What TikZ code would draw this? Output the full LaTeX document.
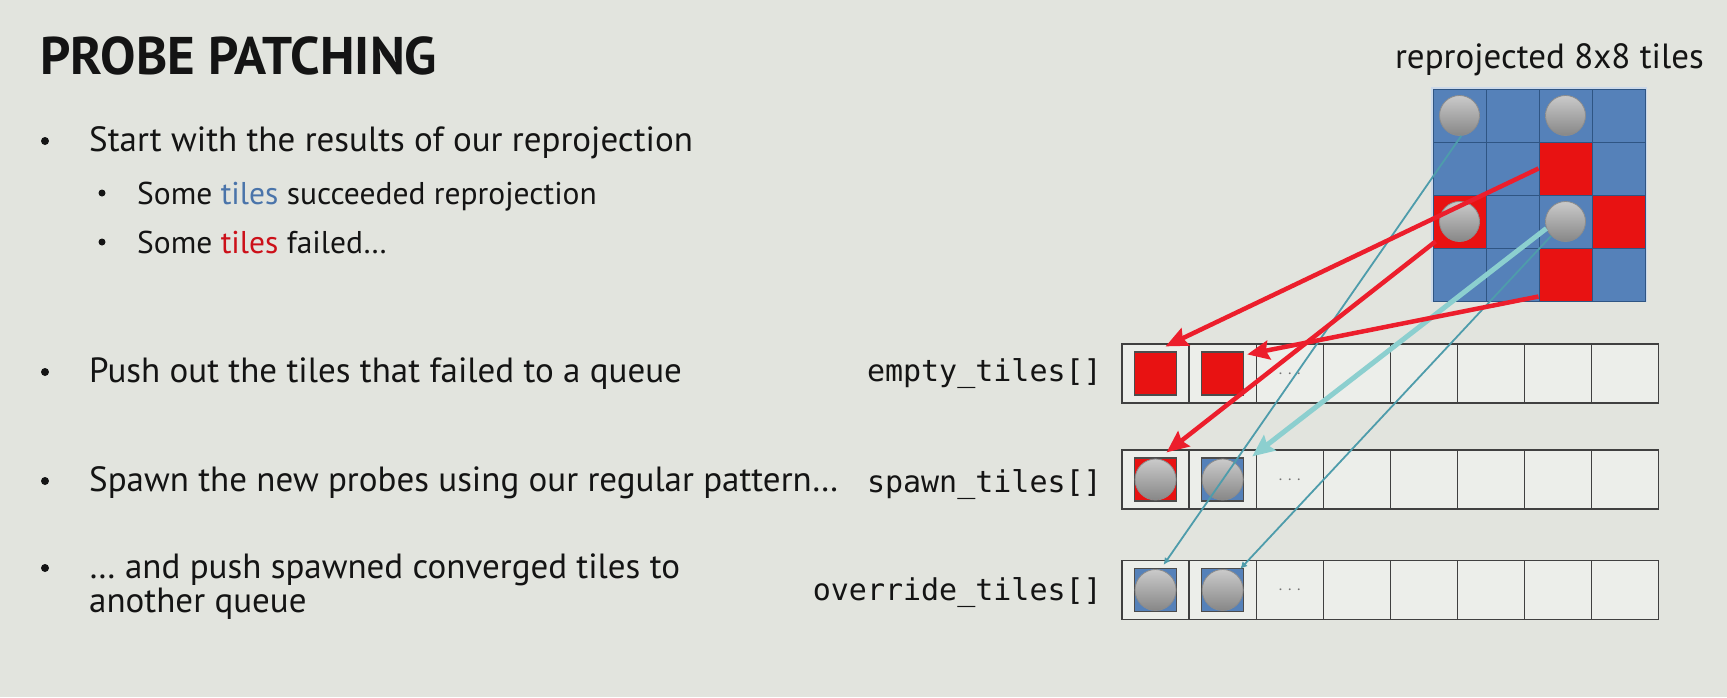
\documentclass[tikz,border=0pt]{standalone}
\usepackage{fontspec}
\setmainfont{PT Sans}
\newfontfamily\codefont{DejaVu Sans Mono}
\usetikzlibrary{arrows.meta,calc}

\definecolor{slidebg}{HTML}{E2E4DE}
\definecolor{cellbg}{HTML}{ECEEEA}
\definecolor{tileblue}{HTML}{5581B9}
\definecolor{tilered}{HTML}{E81212}
\definecolor{gridline}{HTML}{2F5583}
\definecolor{arrowred}{HTML}{EC1E2C}
\definecolor{cyanarrow}{HTML}{8CCFCF}
\definecolor{tealline}{HTML}{4E9CAB}
\definecolor{wordblue}{HTML}{4A74AA}
\definecolor{wordred}{HTML}{CC1019}
\definecolor{probetop}{HTML}{CACACA}
\definecolor{probebot}{HTML}{878787}
\definecolor{textdark}{HTML}{141414}

\tikzset{
  titletext/.style={font=\bfseries\fontsize{53}{60}\selectfont, text=textdark, anchor=base west, inner sep=0pt},
  bodytext/.style={font=\fontsize{35}{40}\selectfont, text=textdark, anchor=base west, inner sep=0pt},
  subtext/.style={font=\fontsize{31.5}{37}\selectfont, text=textdark, anchor=base west, inner sep=0pt},
  codetext/.style={font=\codefont\fontsize{30}{36}\selectfont, text=textdark, anchor=base east, inner sep=0pt},
  tile/.style={rectangle, minimum size=53pt, inner sep=0pt, draw=gridline, line width=1pt},
  qcell/.style={rectangle, minimum width=67.1pt, minimum height=59pt, inner sep=0pt, draw=black!75, fill=cellbg, line width=1.3pt},
  qtile/.style={rectangle, minimum width=42pt, minimum height=43pt, inner sep=0pt, draw=black!70, line width=1.2pt},
  probe/.style={circle, minimum size=40pt, inner sep=0pt, draw=black!45, line width=0.8pt, top color=probetop, bottom color=probebot},
  qprobe/.style={probe, minimum size=41pt},
  failarrow/.style={draw=arrowred, line width=4.5pt, -{Stealth[length=22pt, width=19pt, inset=3pt]}},
  cyanarrowstyle/.style={draw=cyanarrow, line width=5pt, -{Stealth[length=22pt, width=19pt, inset=3pt]}},
  thinarrow/.style={draw=tealline, line width=1.8pt, -{Latex[length=7pt, width=7pt]}},
  dotsmark/.style={font=\fontsize{16}{16}\selectfont, text=black!55, inner sep=0pt}
}

\begin{document}
\begin{tikzpicture}[x=1pt, y=-1pt]
  % slide background
  \fill[slidebg] (0,0) rectangle (1727,697);
  \useasboundingbox (0,0) rectangle (1727,697);

  % heading and bullet list
  \node[titletext] (title) at (40,74) {PROBE PATCHING};

  \fill[textdark] (45,141) circle (4);
  \node[bodytext] (b1) at (89,151) {Start with the results of our reprojection};
  \fill[textdark] (102,193) circle (3.5);
  \node[subtext] (b1a) at (137,204) {Some \textcolor{wordblue}{tiles} succeeded reprojection};
  \fill[textdark] (102,242) circle (3.5);
  \node[subtext] (b1b) at (137,253) {Some \textcolor{wordred}{tiles} failed…};

  \fill[textdark] (45,372) circle (4);
  \node[bodytext] (b2) at (89,382) {Push out the tiles that failed to a queue};
  \fill[textdark] (45,481) circle (4);
  \node[bodytext] (b3) at (89,491) {Spawn the new probes using our regular pattern…};
  \fill[textdark] (45,568) circle (4);
  \node[bodytext] (b4) at (89,578) {… and push spawned converged tiles to};
  \node[bodytext] (b4b) at (89,612) {another queue};

  % reprojected tile grid
  \node[bodytext, anchor=base east] (gridlabel) at (1704,68) {reprojected 8x8 tiles};
  \draw[white!70!tileblue, line width=1.5pt] (1432,88) rectangle (1646,301);
  \foreach \r/\c/\col in {0/0/tileblue, 0/1/tileblue, 0/2/tileblue, 0/3/tileblue,
                          1/0/tileblue, 1/1/tileblue, 1/2/tilered,  1/3/tileblue,
                          2/0/tilered,  2/1/tileblue, 2/2/tileblue, 2/3/tilered,
                          3/0/tileblue, 3/1/tileblue, 3/2/tilered,  3/3/tileblue}
    \node[tile, fill=\col] (g\r\c) at ({1433+53*\c+26.5},{89+53*\r+26.5}) {};
  \node[probe] (p00) at (g00) {};
  \node[probe] (p02) at (g02) {};
  \node[probe] (p20) at (g20) {};
  \node[probe] (p22) at (g22) {};

  % queue labels
  \node[codetext] (lempty) at (1102,381) {empty\_tiles[]};
  \node[codetext] (lspawn) at (1102,492) {spawn\_tiles[]};
  \node[codetext] (loverride) at (1102,600) {override\_tiles[]};

  % queues
  \foreach \q/\y in {1/373.5, 2/479.5, 3/590}
    \foreach \i in {1,...,8}
      \node[qcell] (q\q-\i) at ({1122+67.1*(\i-0.5)},\y) {};
  \foreach \q in {1,2,3}
    \node[dotsmark] (dots\q) at (q\q-3) {. . .};

  \node[qtile, fill=tilered] (e1) at (q1-1) {};
  \node[qtile, fill=tilered] (e2) at (q1-2) {};
  \node[qtile, fill=tilered] (s1) at (q2-1) {};
  \node[qtile, fill=tileblue] (s2) at (q2-2) {};
  \node[qtile, fill=tileblue] (o1) at (q3-1) {};
  \node[qtile, fill=tileblue] (o2) at (q3-2) {};
  \node[qprobe] (ps1) at (s1) {};
  \node[qprobe] (ps2) at (s2) {};
  \node[qprobe] (po1) at (o1) {};
  \node[qprobe] (po2) at (o2) {};

  % connectors
  \draw[thinarrow] (p00.-85) -- ($(o1.north)+(8,-3)$);
  \draw[thinarrow] (p22.225) -- ($(o2.north east)+(-4,1)$);
  \draw[cyanarrowstyle] (p22.200) -- ($(s2.north east)+(8,-1)$);
  \draw[failarrow] (g12.west) -- ($(e1.north)+(10,-5)$);
  \draw[failarrow] ($(g32.south west)+(0,-5)$) -- ($(e2.north east)+(3,3)$);
  \draw[failarrow] ($(g20.south west)+(3,-7)$) -- ($(s1.north)+(11,-5)$);
\end{tikzpicture}
\end{document}
